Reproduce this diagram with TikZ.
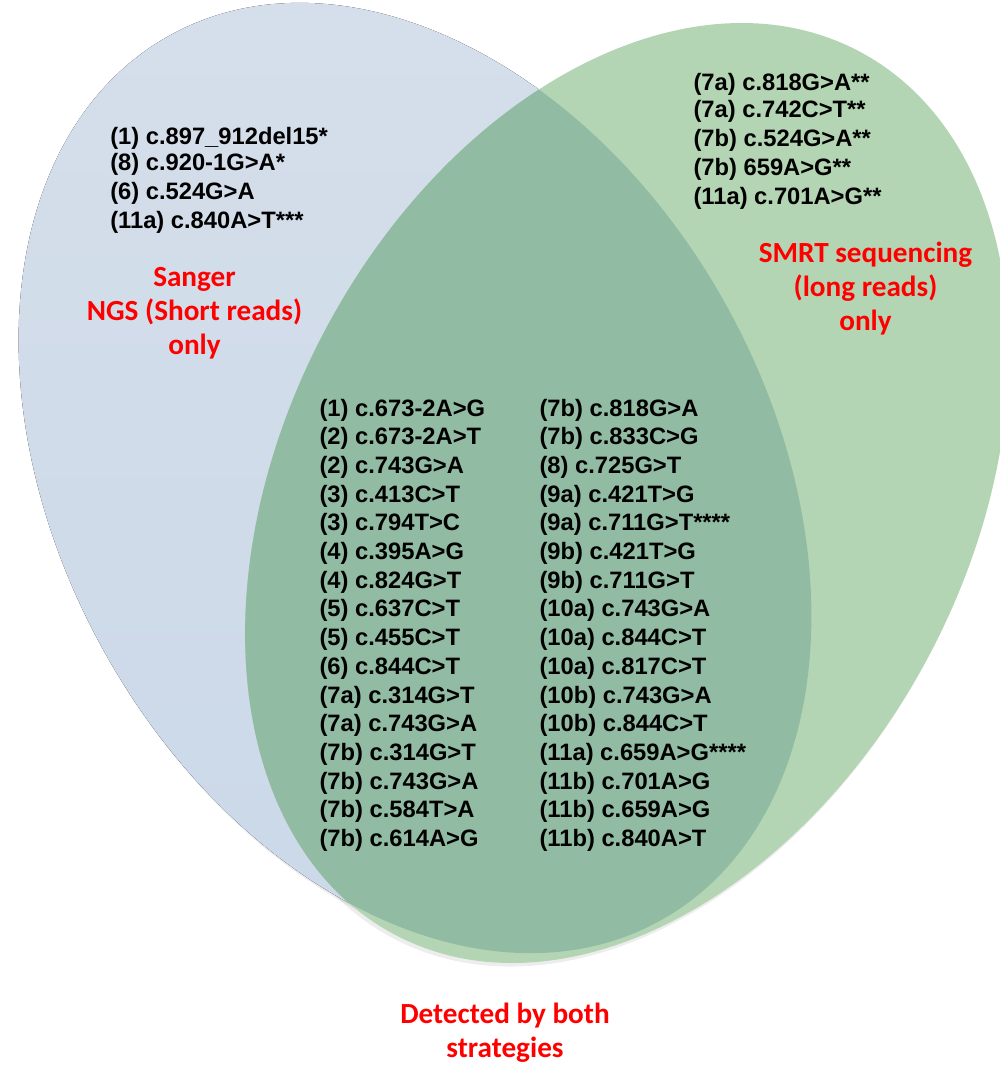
\documentclass[tikz,border=0pt]{standalone}
\usepackage{fontspec}
\setmainfont{Liberation Sans}
\newfontfamily\calibri{Carlito}

\definecolor{blueset}{HTML}{D6DFEB}
\definecolor{bluesetlow}{HTML}{CAD8E8}
\definecolor{greenset}{HTML}{B4D5B4}
\definecolor{bothset}{HTML}{91BBA3}

\begin{document}
\begin{tikzpicture}[x=0.75pt,y=0.75pt,
                    sangerset/.style={rotate around={29:(415,-478)}},
                    smrtset/.style={rotate around={-27.6:(627,-493)}},
                    variant/.style={anchor=base west,inner sep=0pt,
                      font=\fontsize{17.8}{21.5}\selectfont\bfseries},
                    setname/.style={align=center,inner sep=0pt,text=red,
                      font=\calibri\fontsize{21.9}{25.5}\selectfont\bfseries}]

  \useasboundingbox (0,0) rectangle (1000,-1065);

  % soft shadows
  \fill[black,opacity=0.07,sangerset] (415,-482) ellipse [x radius=356,y radius=506];
  \fill[black,opacity=0.07,smrtset] (627,-497) ellipse [x radius=343,y radius=499];

  % the two sets and their overlap
  \fill[sangerset,top color=blueset,bottom color=bluesetlow] (415,-478) ellipse [x radius=356,y radius=506];
  \fill[greenset,smrtset] (627,-493) ellipse [x radius=343,y radius=499];
  \begin{scope}
    \clip[sangerset] (415,-478) ellipse [x radius=356,y radius=506];
    \fill[bothset,smrtset] (627,-493) ellipse [x radius=343,y radius=499];
  \end{scope}

  % Sanger / NGS only
  \foreach \i/\y/\t in {1/144/{(1) c.897\_912del15*},2/170.5/{(8) c.920-1G>A*},
                        3/199/{(6) c.524G>A},4/228/{(11a) c.840A>T***}}
    \node[variant] (ngs\i) at (110,-\y) {\t};

  % SMRT only
  \foreach \i/\y/\t in {1/90.7/{(7a) c.818G>A**},2/117.3/{(7a) c.742C>T**},
                        3/146.7/{(7b) c.524G>A**},4/175.7/{(7b) 659A>G**},
                        5/204/{(11a) c.701A>G**}}
    \node[variant] (smrt\i) at (693.3,-\y) {\t};

  % detected by both
  \foreach \t [count=\i] in {(1) c.673-2A>G,(2) c.673-2A>T,(2) c.743G>A,(3) c.413C>T,
                             (3) c.794T>C,(4) c.395A>G,(4) c.824G>T,(5) c.637C>T,
                             (5) c.455C>T,(6) c.844C>T,(7a) c.314G>T,(7a) c.743G>A,
                             (7b) c.314G>T,(7b) c.743G>A,(7b) c.584T>A,(7b) c.614A>G}
    \node[variant] (bothl\i) at (319.3,{-416-28.7*(\i-1)}) {\t};
  \foreach \t [count=\i] in {(7b) c.818G>A,(7b) c.833C>G,(8) c.725G>T,(9a) c.421T>G,
                             (9a) c.711G>T****,(9b) c.421T>G,(9b) c.711G>T,(10a) c.743G>A,
                             (10a) c.844C>T,(10a) c.817C>T,(10b) c.743G>A,(10b) c.844C>T,
                             (11a) c.659A>G****,(11b) c.701A>G,(11b) c.659A>G,(11b) c.840A>T}
    \node[variant] (bothr\i) at (539.3,{-416-28.7*(\i-1)}) {\t};

  % set names
  \node[setname] (ngsname) at (194.5,-313) {Sanger\\NGS (Short reads)\\only};
  \node[setname] (smrtname) at (865.5,-289) {SMRT sequencing\\(long reads)\\only};
  \node[setname] (bothname) at (505,-1033) {Detected by both\\strategies};
\end{tikzpicture}
\end{document}
